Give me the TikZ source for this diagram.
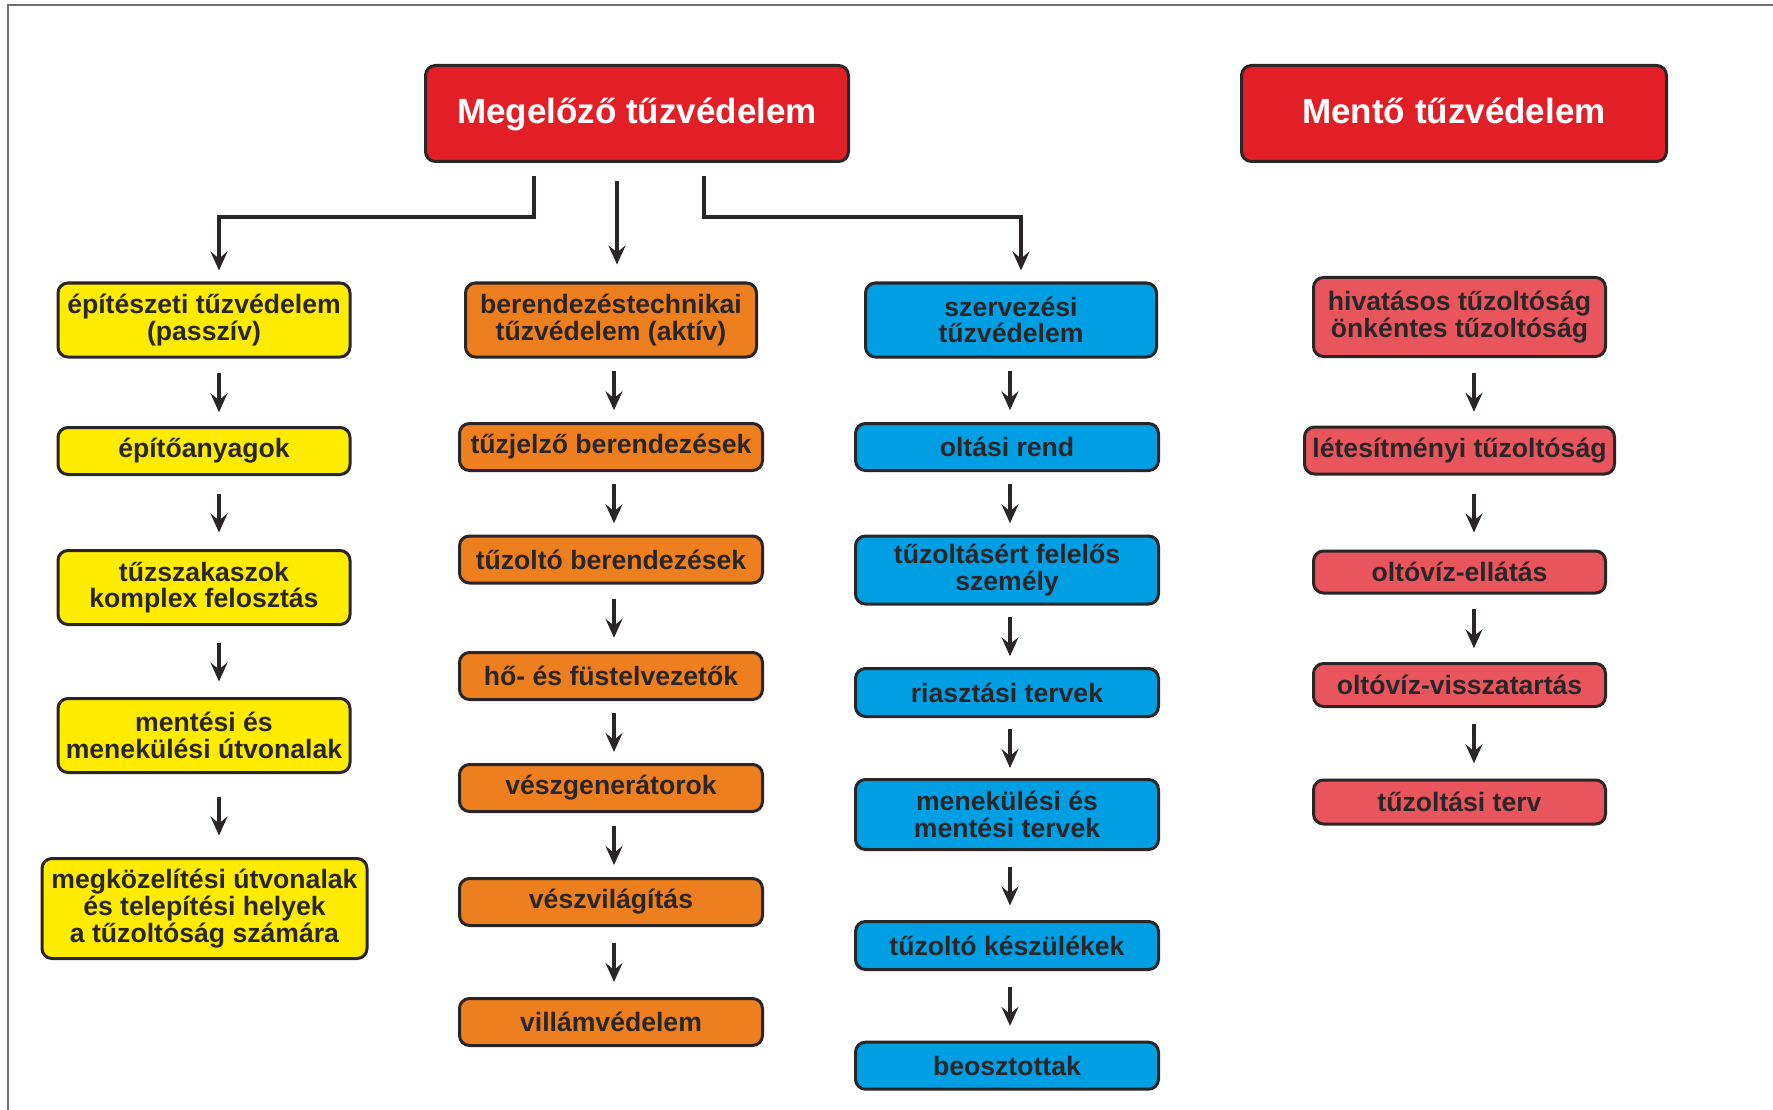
\documentclass[tikz,border=0pt]{standalone}
\usepackage{fontspec}
\setmainfont{Liberation Sans}
\usetikzlibrary{arrows.meta,calc}
\definecolor{redT}{HTML}{E21F26}
\definecolor{yelC}{HTML}{FFEC00}
\definecolor{oraC}{HTML}{EE7F1E}
\definecolor{bluC}{HTML}{009FE3}
\definecolor{pnkC}{HTML}{E8555C}
\definecolor{dk}{HTML}{2A2627}
\definecolor{frameC}{HTML}{707070}
\tikzset{
  box/.style={draw=dk, line width=3pt, rounded corners=10pt, inner sep=0pt, align=center, text=dk,
    font=\bfseries\fontsize{26.6}{26.7}\selectfont},
  title/.style={box, fill=redT, text=white, font=\bfseries\fontsize{35}{40}\selectfont,
    minimum height=96pt, text height=27pt, text depth=7pt},
  ybox/.style={box, fill=yelC, minimum width=292pt},
  obox/.style={box, fill=oraC, minimum width=303pt, minimum height=47pt},
  bbox/.style={box, fill=bluC, minimum width=303pt},
  rbox/.style={box, fill=pnkC, minimum width=292pt},
  arr/.style={draw=dk, line width=3.5pt, -{Stealth[length=19pt,width=17pt,inset=7pt]}},
}
\newcommand\myflow[3]{\draw[arr] ($(#1.south -| #3)!0.5!(#2.north -| #3)+(0,-19)$) -- ++(0,39);}
\begin{document}
\begin{tikzpicture}[x=1pt,y=-1pt]
\fill[white] (0,0) rectangle (1773,1110);
\useasboundingbox (0,0) rectangle (1773,1110);
\draw[frameC, line width=2pt] (8,1110) -- (8,5) -- (1773,5);

\coordinate (X1) at (219,0);
\coordinate (X2) at (614,0);
\coordinate (X3) at (1010,0);
\coordinate (X4) at (1474,0);

% titles
\node[title, minimum width=423pt] (T1) at (637,113.5) {Megelőző tűzvédelem};
\node[title, minimum width=425pt] (T2) at (1454,113.5) {Mentő tűzvédelem};

% column 1
\node[ybox, minimum height=74pt] (a1) at (204,320) {építészeti tűzvédelem\\(passzív)};
\node[ybox, minimum height=47pt] (a2) at (204,451) {építőanyagok};
\node[ybox, minimum height=74pt] (a3) at (204,587.5) {tűzszakaszok\\komplex felosztás};
\node[ybox, minimum height=74pt] (a4) at (204,735.5) {mentési és\\menekülési útvonalak};
\node[ybox, minimum width=325pt, minimum height=100pt] (a5) at (204.5,908.5) {megközelítési útvonalak\\és telepítési helyek\\a tűzoltóság számára};

% column 2
\node[obox, minimum width=291pt, minimum height=74pt] (b1) at (611,320) {berendezéstechnikai\\tűzvédelem (aktív)};
\node[obox] (b2) at (611,447) {tűzjelző berendezések};
\node[obox] (b3) at (611,559.5) {tűzoltó berendezések};
\node[obox] (b4) at (611,676) {hő- és füstelvezetők};
\node[obox] (b5) at (611,788) {vészgenerátorok};
\node[obox] (b6) at (611,902) {vészvilágítás};
\node[obox] (b7) at (611,1022) {villámvédelem};

% column 3
\node[bbox, minimum width=291pt, minimum height=74pt] (c1) at (1011,320) {szervezési\\tűzvédelem};
\node[bbox, minimum height=47pt] (c2) at (1007,447) {oltási rend};
\node[bbox, minimum height=68pt] (c3) at (1007,570) {tűzoltásért felelős\\személy};
\node[bbox, minimum height=48pt] (c4) at (1007,692.5) {riasztási tervek};
\node[bbox, minimum height=70pt] (c5) at (1007,814.5) {menekülési és\\mentési tervek};
\node[bbox, minimum height=48pt] (c6) at (1007,945.5) {tűzoltó készülékek};
\node[bbox, minimum height=47pt] (c7) at (1007,1065.7) {beosztottak};

% column 4
\node[rbox, minimum height=79pt] (d1) at (1459.5,317) {hivatásos tűzoltóság\\önkéntes tűzoltóság};
\node[rbox, minimum width=310pt, minimum height=47pt] (d2) at (1459.5,450.5) {létesítményi tűzoltóság};
\node[rbox, minimum height=42pt] (d3) at (1459.5,572) {oltóvíz-ellátás};
\node[rbox, minimum height=43pt] (d4) at (1459.5,685) {oltóvíz-visszatartás};
\node[rbox, minimum height=44pt] (d5) at (1459.5,802) {tűzoltási terv};

% top connectors
\draw[arr] ($(T1.south)+(-103,13)$) -- ++(0,41) -| ($(a1.north -| X1)+(0,-11)$);
\draw[arr] ($(T1.south)+(-20,18)$) -- ($(b1.north)+(6,-17)$);
\draw[arr] ($(T1.south)+(67,13)$) -- ++(0,41) -| ($(c1.north)+(10,-11)$);

% column flows
\myflow{a1}{a2}{X1}
\myflow{a2}{a3}{X1}
\myflow{a3}{a4}{X1}
\myflow{a4}{a5}{X1}

\myflow{b1}{b2}{X2}
\myflow{b2}{b3}{X2}
\myflow{b3}{b4}{X2}
\myflow{b4}{b5}{X2}
\myflow{b5}{b6}{X2}
\myflow{b6}{b7}{X2}

\myflow{c1}{c2}{X3}
\myflow{c2}{c3}{X3}
\myflow{c3}{c4}{X3}
\myflow{c4}{c5}{X3}
\myflow{c5}{c6}{X3}
\myflow{c6}{c7}{X3}

\myflow{d1}{d2}{X4}
\myflow{d2}{d3}{X4}
\myflow{d3}{d4}{X4}
\myflow{d4}{d5}{X4}
\end{tikzpicture}
\end{document}
